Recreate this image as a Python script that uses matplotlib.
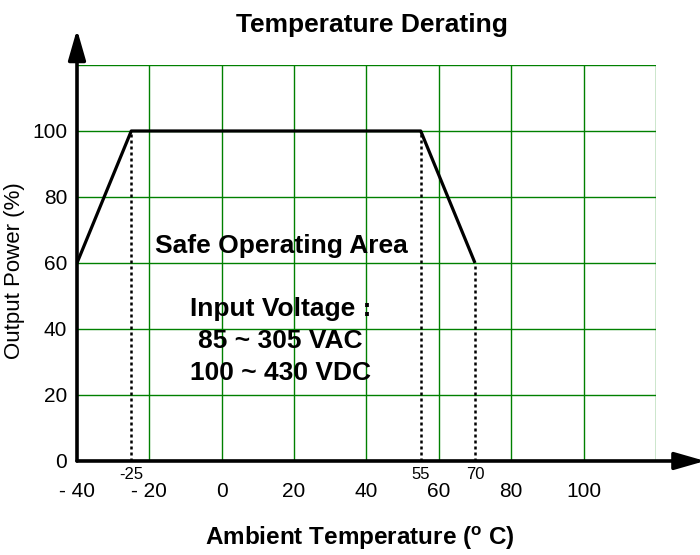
import numpy as np
from matplotlib import pyplot as plt

plt.rcParams['font.family'] = ['Liberation Sans', 'DejaVu Sans']
plt.rcParams['mathtext.fontset'] = 'custom'
plt.rcParams['mathtext.rm'] = 'Liberation Sans'
plt.rcParams['mathtext.bf'] = 'Liberation Sans:bold'

# derating curve (temperature, output power %)
temp = [-40, -25, 55, 70]
power = [60, 100, 100, 60]

# dashed markers down to the x axis
mark_temp = [-25, 55, 70]
mark_power = [100, 100, 60]
mark_labels = ['-25', '55', '70']

xticks = [-40, -20, 0, 20, 40, 60, 80, 100]
xtick_labels = ['- 40', '- 20', '0', '20', '40', '60', '80', '100']
yticks = [0, 20, 40, 60, 80, 100]
grid_x = [-40, -20, 0, 20, 40, 60, 80, 100, 120]
grid_y = [0, 20, 40, 60, 80, 100, 120]

fig = plt.figure(figsize=(7, 5.55), dpi=100)
ax = fig.add_axes([0.11, 0.1694, 0.827, 0.7135])
ax.set_xlim(-40, 120)
ax.set_ylim(0, 120)

# green grid
for gx in grid_x[1:]:
    ax.axvline(gx, color='#008000', lw=1.0, zorder=1)
for gy in grid_y[1:]:
    ax.axhline(gy, color='#008000', lw=1.0, zorder=1)

for t, p in zip(mark_temp, mark_power):
    ax.plot([t, t], [0, p], color='black', lw=1.8, ls=(0, (1.2, 1.2)), zorder=2)

ax.plot(temp, power, color='black', lw=2.3, zorder=3, solid_capstyle='butt')

for spine in ax.spines.values():
    spine.set_visible(False)

# axes with arrow heads
arrow = dict(arrowstyle='-|>,head_length=1.15,head_width=0.33', color='black', lw=2.6,
             shrinkA=0, shrinkB=0, mutation_scale=16)
ax.annotate('', xy=(1.085, 0), xytext=(0, 0), xycoords='axes fraction',
            textcoords='axes fraction', arrowprops=arrow, annotation_clip=False, zorder=5)
ax.annotate('', xy=(0, 1.09), xytext=(0, 0), xycoords='axes fraction',
            textcoords='axes fraction', arrowprops=arrow, annotation_clip=False, zorder=5)

ax.set_xticks(xticks)
ax.set_xticklabels(xtick_labels, fontsize=15)
ax.set_yticks(yticks)
ax.set_yticklabels([str(v) for v in yticks], fontsize=15)
ax.tick_params(axis='x', length=0, pad=15)
ax.tick_params(axis='y', length=0, pad=7)

for t, lab in zip(mark_temp, mark_labels):
    ax.text(t, -1.8, lab, ha='center', va='top', fontsize=12)

ax.set_ylabel('Output Power (%)', fontsize=16)
ax.yaxis.set_label_coords(-0.09, 0.48)
ax.set_xlabel(r'Ambient Temperature ($\mathbf{^{o}}$ C)', fontsize=17.5,
              fontweight='bold', labelpad=18)
ax.xaxis.set_label_coords(0.489, -0.16)
ax.set_title('Temperature Derating', fontsize=19, fontweight='bold', pad=24, x=0.51)

ax.text(16.4, 65.2, 'Safe Operating Area', ha='center', va='center',
        fontsize=19, fontweight='bold')
ax.text(16.2, 46.2, 'Input Voltage :', ha='center', va='center',
        fontsize=19, fontweight='bold')
ax.text(16.2, 36.4, '85 ~ 305 VAC', ha='center', va='center',
        fontsize=19, fontweight='bold')
ax.text(16.2, 26.7, '100 ~ 430 VDC', ha='center', va='center',
        fontsize=19, fontweight='bold')

fig.savefig('out.png', dpi=100)
